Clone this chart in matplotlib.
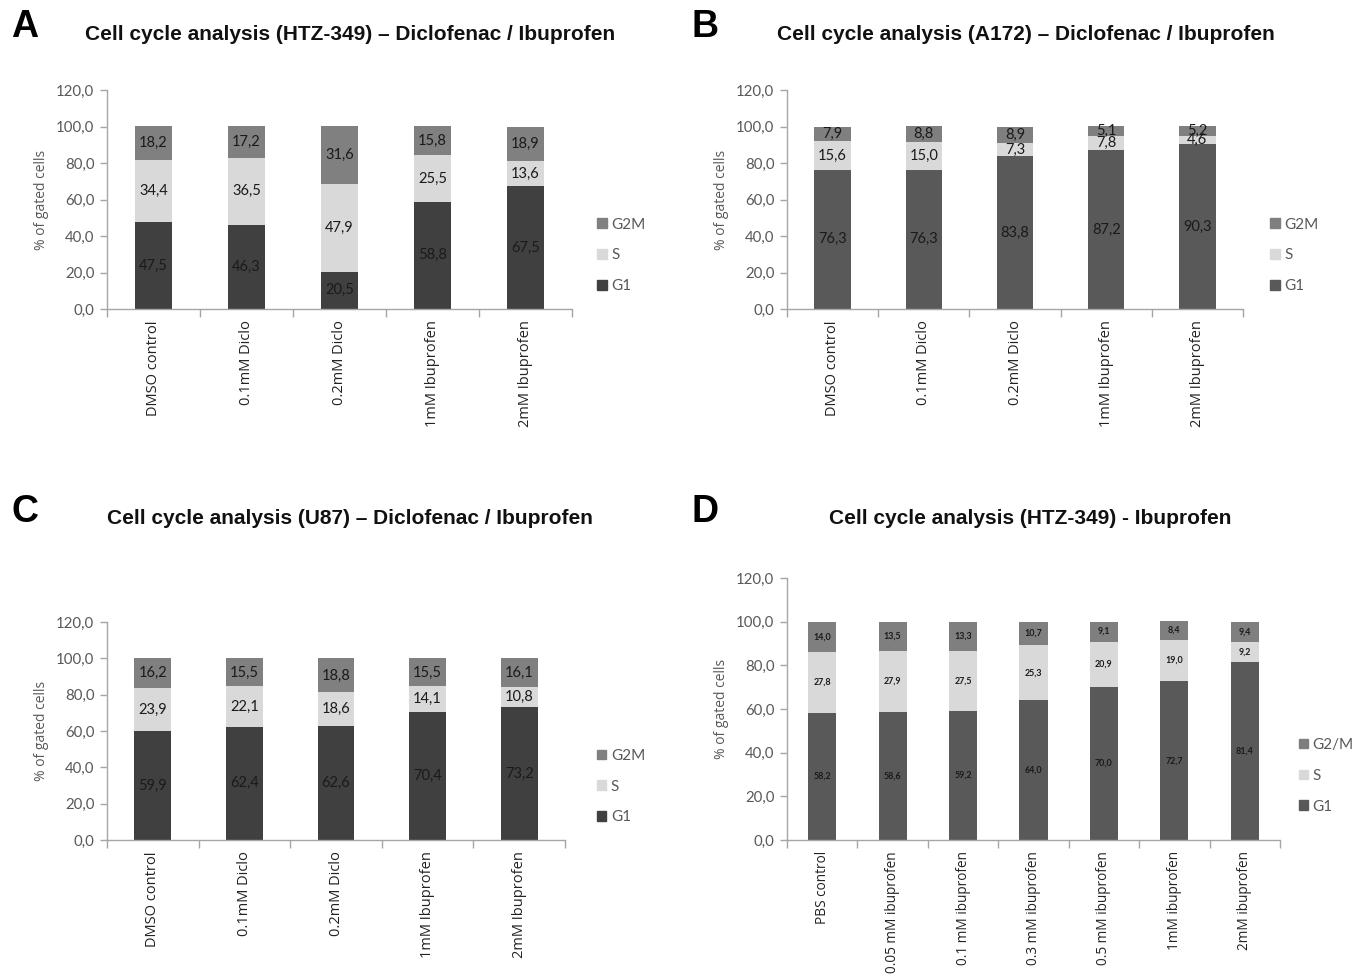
import matplotlib
matplotlib.use("Agg")
import matplotlib.pyplot as plt
from matplotlib.patches import Patch
import numpy as np

# ---------------- data ----------------
cats_abc = ["DMSO control", "0.1mM Diclo", "0.2mM Diclo", "1mM Ibuprofen", "2mM Ibuprofen"]
cats_d = ["PBS control", "0.05 mM ibuprofen", "0.1 mM ibuprofen", "0.3 mM ibuprofen",
          "0.5 mM ibuprofen", "1mM ibuprofen", "2mM ibuprofen"]

a_g1 = [47.5, 46.3, 20.5, 58.8, 67.5]
a_s = [34.4, 36.5, 47.9, 25.5, 13.6]
a_g2m = [18.2, 17.2, 31.6, 15.8, 18.9]

b_g1 = [76.3, 76.3, 83.8, 87.2, 90.3]
b_s = [15.6, 15.0, 7.3, 7.8, 4.6]
b_g2m = [7.9, 8.8, 8.9, 5.1, 5.2]

c_g1 = [59.9, 62.4, 62.6, 70.4, 73.2]
c_s = [23.9, 22.1, 18.6, 14.1, 10.8]
c_g2m = [16.2, 15.5, 18.8, 15.5, 16.1]

d_g1 = [58.2, 58.6, 59.2, 64.0, 70.0, 72.7, 81.4]
d_s = [27.8, 27.9, 27.5, 25.3, 20.9, 19.0, 9.2]
d_g2m = [14.0, 13.5, 13.3, 10.7, 9.1, 8.4, 9.4]

yticks = [0, 20, 40, 60, 80, 100, 120]

titles = ["Cell cycle analysis (HTZ-349) \u2013 Diclofenac / Ibuprofen",
          "Cell cycle analysis (A172) \u2013 Diclofenac / Ibuprofen",
          "Cell cycle analysis (U87) \u2013 Diclofenac / Ibuprofen",
          "Cell cycle analysis (HTZ-349) - Ibuprofen"]
letters = ["A", "B", "C", "D"]

# ---------------- style ----------------
TITLE_FONT = ["Liberation Sans Narrow", "Liberation Sans", "DejaVu Sans"]
TICK_FONT = ["Lato", "DejaVu Sans"]
XT_FONT = ["Open Sans", "DejaVu Sans"]
GRAY_TXT = "#595959"
AX_COL = "#a6a6a6"

fig = plt.figure(figsize=(13.62, 9.76), dpi=100)

W, H = 1362.0, 976.0


def px_axes(l, r, top, bot):
    return fig.add_axes([l / W, 1 - bot / H, (r - l) / W, (bot - top) / H])


def panel(ax, cats, g1, s, g2m, cols, legend_labels, lab_size, lab_bold, leg_pos, xt_size):
    x = np.arange(len(cats))
    g1 = np.array(g1)
    s = np.array(s)
    g2m = np.array(g2m)
    bw = 0.4
    ax.bar(x, g1, bw, color=cols[0], zorder=2)
    ax.bar(x, s, bw, bottom=g1, color=cols[1], zorder=2)
    ax.bar(x, g2m, bw, bottom=g1 + s, color=cols[2], zorder=2)
    fw = "bold" if lab_bold else "normal"
    for vals, bots in ((g1, np.zeros_like(g1)), (s, g1), (g2m, g1 + s)):
        for xi, v, b in zip(x, vals, bots):
            ax.text(xi, b + v / 2, f"{v:.1f}".replace(".", ","), ha="center", va="center",
                    fontsize=lab_size, fontweight=fw, color="#1a1a1a",
                    family=TICK_FONT, zorder=3)
    ax.set_xlim(-0.5, len(cats) - 0.5)
    ax.set_ylim(0, 120)
    ax.set_yticks(yticks)
    ax.set_yticklabels([f"{t:.1f}".replace(".", ",") for t in yticks],
                       family=TICK_FONT, fontsize=10.8, color=GRAY_TXT)
    ax.set_xticks(x)
    ax.set_xticklabels(cats, rotation=90, family=XT_FONT, fontsize=xt_size, color="#222222")
    ax.set_xticks(np.arange(-0.5, len(cats), 1.0), minor=True)
    ax.tick_params(axis="x", which="major", length=0, pad=8)
    ax.tick_params(axis="x", which="minor", length=6, color=AX_COL, width=1)
    ax.tick_params(axis="y", length=5, color=AX_COL, width=1, pad=4)
    for sp in ("top", "right"):
        ax.spines[sp].set_visible(False)
    for sp in ("left", "bottom"):
        ax.spines[sp].set_color(AX_COL)
        ax.spines[sp].set_linewidth(1)
    ax.set_ylabel("% of gated cells", family=XT_FONT, fontsize=10, color=GRAY_TXT, labelpad=5)
    handles = [Patch(color=cols[2], label=legend_labels[0]),
               Patch(color=cols[1], label=legend_labels[1]),
               Patch(color=cols[0], label=legend_labels[2])]
    leg = ax.legend(handles=handles, loc="center left", bbox_to_anchor=leg_pos,
                    frameon=False, handlelength=0.6, handleheight=0.6,
                    handletextpad=0.3, labelspacing=1.1,
                    prop={"family": TICK_FONT, "size": 11})
    for t in leg.get_texts():
        t.set_color(GRAY_TXT)


dark_cols = ["#404040", "#d9d9d9", "#808080"]
mid_cols = ["#595959", "#d9d9d9", "#7f7f7f"]

axA = px_axes(107, 572, 90, 309)
panel(axA, cats_abc, a_g1, a_s, a_g2m, dark_cols, ["G2M", "S", "G1"], 10.5, False, (1.025, 0.245), 10.5)
axB = px_axes(787, 1243, 90, 309)
panel(axB, cats_abc, b_g1, b_s, b_g2m, mid_cols, ["G2M", "S", "G1"], 10.5, False, (1.03, 0.245), 10.5)
axC = px_axes(107, 565, 622, 840)
panel(axC, cats_abc, c_g1, c_s, c_g2m, dark_cols, ["G2M", "S", "G1"], 10.5, False, (1.04, 0.245), 10.5)
axD = px_axes(787, 1280, 578, 840)
panel(axD, cats_d, d_g1, d_s, d_g2m, mid_cols, ["G2/M", "S", "G1"], 6.4, True, (1.01, 0.245), 9.8)

title_pos = [(350, 34), (1026, 34), (350, 518), (1030, 518)]
letter_pos = [(25, 27), (705, 27), (25, 512), (705, 512)]
for (tx, ty), t in zip(title_pos, titles):
    fig.text(tx / W, 1 - ty / H, t, ha="center", va="center", family=TITLE_FONT,
             fontsize=15, fontweight="bold", color="#111111")
for (lx, ly), l in zip(letter_pos, letters):
    fig.text(lx / W, 1 - ly / H, l, ha="center", va="center", family=["Liberation Sans", "DejaVu Sans"],
             fontsize=27, fontweight="bold", color="black")

fig.savefig("out.png", dpi=100, facecolor="white")
